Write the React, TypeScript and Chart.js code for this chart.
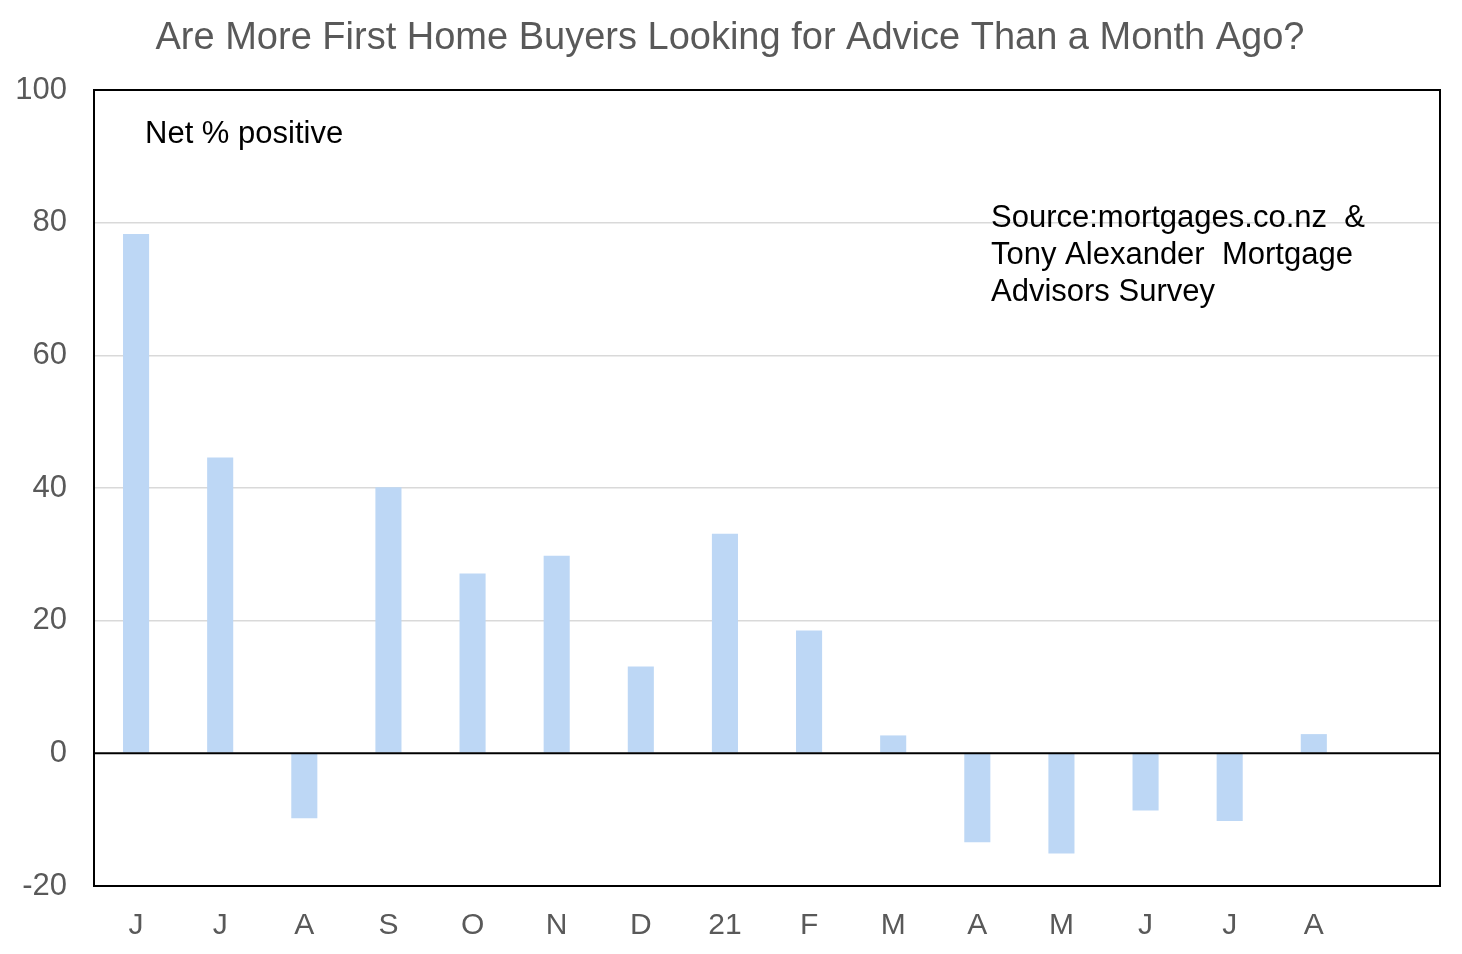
import React, { useRef, useEffect } from 'react';
import { Chart, registerables } from 'chart.js';

Chart.register(...registerables);

// month labels, Jun 2020 to Aug 2021 (last slot is empty)
const months = ['J', 'J', 'A', 'S', 'O', 'N', 'D', '21', 'F', 'M', 'A', 'M', 'J', 'J', 'A', ''];
const netPositive = [78.3, 44.6, -9.8, 40.1, 27.1, 29.8, 13.1, 33.1, 18.5, 2.7, -13.4, -15.1, -8.6, -10.2, 2.9, null];
const sourceLines = ['Source:mortgages.co.nz  &', 'Tony Alexander  Mortgage', 'Advisors Survey'];

const FONT = '"Liberation Sans", Arial, sans-serif';
const GREY = '#595959';

// title, notes and the frame round the plot area
const decorations = {
  id: 'decorations',
  afterDraw(chart: Chart) {
    const { ctx, chartArea } = chart;
    ctx.save();
    ctx.fillStyle = GREY;
    ctx.font = `38px ${FONT}`;
    ctx.textAlign = 'center';
    ctx.textBaseline = 'middle';
    ctx.fillText('Are More First Home Buyers Looking for Advice Than a Month Ago?', 730, 39);

    ctx.fillStyle = '#000';
    ctx.font = `31px ${FONT}`;
    ctx.textAlign = 'left';
    ctx.fillText('Net % positive', 145, 134);
    sourceLines.forEach((line, i) => ctx.fillText(line, 991, 218 + i * 37));

    ctx.strokeStyle = '#000';
    ctx.lineWidth = 2;
    ctx.strokeRect(chartArea.left, chartArea.top, chartArea.right - chartArea.left, chartArea.bottom - chartArea.top);
    const y0 = chart.scales.y.getPixelForValue(0);
    ctx.beginPath();
    ctx.moveTo(chartArea.left, y0);
    ctx.lineTo(chartArea.right, y0);
    ctx.stroke();
    ctx.restore();
  },
};

const App: React.FC = () => {
  const chartRef = useRef<HTMLCanvasElement | null>(null);
  const chartInstance = useRef<Chart | null>(null);

  useEffect(() => {
    if (!chartRef.current) return;
    if (chartInstance.current) chartInstance.current.destroy();

    chartInstance.current = new Chart(chartRef.current, {
      type: 'bar',
      data: {
        labels: months,
        datasets: [
          {
            label: 'Net % positive',
            data: netPositive,
            backgroundColor: '#BDD7F5',
            borderWidth: 0,
            categoryPercentage: 1,
            barPercentage: 0.31,
          },
        ],
      },
      options: {
        animation: false,
        responsive: true,
        maintainAspectRatio: false,
        layout: { padding: { top: 90, right: 22, left: 0, bottom: 0 } },
        plugins: {
          legend: { display: false },
          tooltip: { enabled: false },
        },
        scales: {
          x: {
            grid: { display: false },
            border: { display: false },
            ticks: { color: GREY, font: { family: FONT, size: 30 }, padding: 14, maxRotation: 0, autoSkip: false },
            afterFit: (scale: any) => {
              scale.height = 68;
            },
          },
          y: {
            min: -20,
            max: 100,
            grid: {
              drawTicks: false,
              color: (c: any) => (c.tick.value === 0 ? 'rgba(0,0,0,0)' : '#D9D9D9'),
              lineWidth: 1.5,
            },
            border: { display: false },
            ticks: { stepSize: 20, color: GREY, font: { family: FONT, size: 31 }, padding: 27 },
            afterFit: (scale: any) => {
              scale.width = 94;
            },
          },
        },
      },
      plugins: [decorations],
    });

    return () => {
      if (chartInstance.current) {
        chartInstance.current.destroy();
        chartInstance.current = null;
      }
    };
  }, []);

  return (
    <div style={{ position: 'absolute', left: 0, top: 0, width: 1462, height: 954, background: '#fff' }}>
      <canvas ref={chartRef}></canvas>
    </div>
  );
};

export default App;
